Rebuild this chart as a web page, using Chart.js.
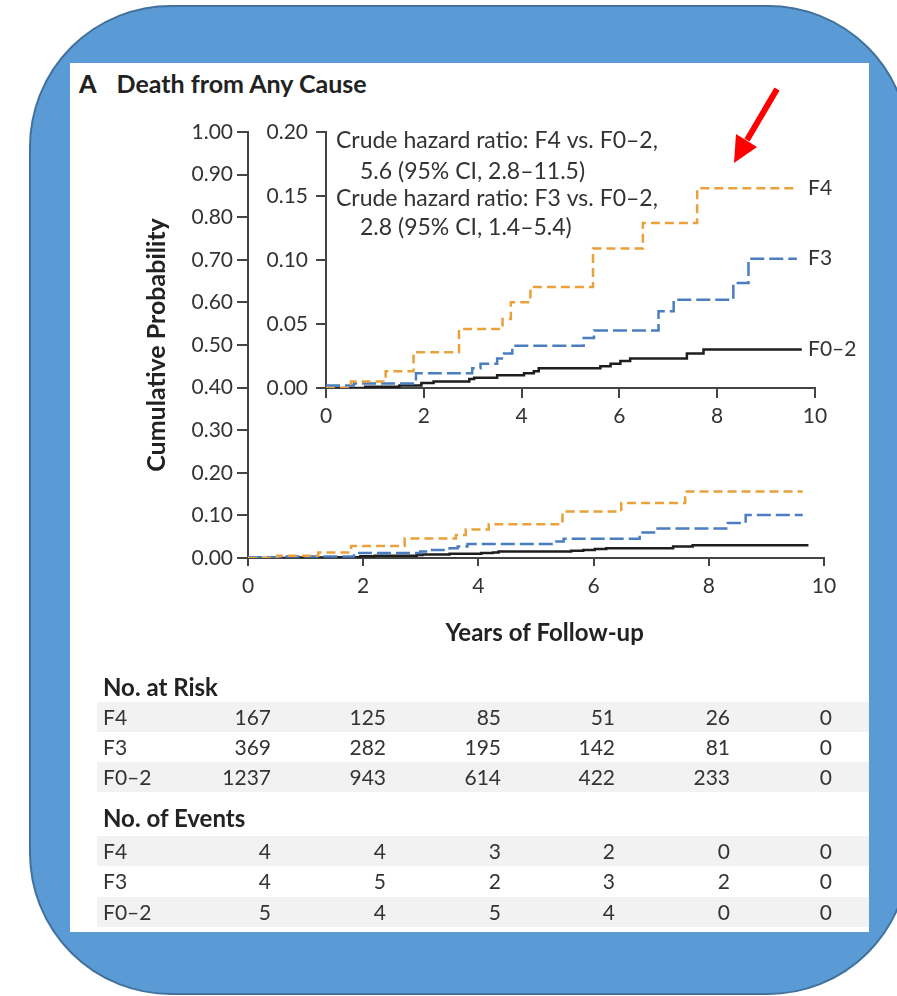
<!DOCTYPE html>
<html>
<head>
<meta charset="utf-8">
<script src="https://cdn.jsdelivr.net/npm/chart.js@4.4.1/dist/chart.umd.min.js"></script>
<style>
  body { margin: 0; width: 897px; height: 996px; background: #fff; position: relative; overflow: hidden; font-family: Lato, sans-serif; color: #2e2e2e; }
  .shape { position: absolute; left: 29px; top: 5px; width: 881px; height: 990px; background: #5b9bd5; border: 2px solid #41719c; border-radius: 142px; box-sizing: border-box; }
  .panel { position: absolute; left: 70px; top: 63px; width: 799px; height: 869px; background: #fff; }
  canvas { position: absolute; left: 0; top: 0; }
  .title { position: absolute; left: 79px; top: 68px; font-weight: bold; font-size: 25px; color: #222; white-space: nowrap; }
  .title b { margin-right: 20px; }
  .hdr { position: absolute; left: 103px; font-weight: bold; font-size: 24px; color: #222; height: 30px; line-height: 30px; white-space: nowrap; }
  .row { position: absolute; left: 97px; width: 772px; height: 30px; line-height: 30px; font-size: 21px; color: #333; }
  .row.shade { background: #f2f2f2; }
  .row span { position: absolute; top: 0; }
  .row .num { width: 80px; text-align: right; }
</style>
</head>
<body>
<div class="shape"></div>
<div class="panel"></div>
<div class="title"><b>A</b>Death from Any Cause</div>
<canvas id="mainChart" width="897" height="660"></canvas>
<canvas id="insetChart" width="897" height="440"></canvas>
<svg width="897" height="996" style="position:absolute;left:0;top:0">
  <line x1="777" y1="89" x2="747" y2="140" stroke="#ff0000" stroke-width="6"/>
  <polygon points="734,163 736,134 757,147" fill="#ff0000"/>
</svg>
<div id="table"></div>

<script>
// Kaplan-Meier style curves (years, cumulative probability)
const f4Times = [0, 0.51, 1.22, 1.79, 2.72, 3.61, 3.78, 4.18, 5.46, 6.48, 7.59, 9.63];
const f4Values = [0, 0.005, 0.013, 0.028, 0.046, 0.054, 0.067, 0.079, 0.109, 0.129, 0.156, 0.156];

const f3Times = [0, 0.57, 1.84, 2.99, 3.16, 3.5, 3.64, 3.81, 5.27, 5.48, 6.8, 7.11, 8.33, 8.64, 9.63];
const f3Values = [0.002, 0.0035, 0.0115, 0.0155, 0.019, 0.023, 0.027, 0.033, 0.039, 0.045, 0.06, 0.069, 0.082, 0.101, 0.101];

const f02Times = [0, 0.8, 1.5, 1.95, 2.2, 2.93, 3.03, 3.5, 4.05, 4.25, 4.35, 5.61, 5.82, 6.02, 6.22, 7.38, 7.72, 9.73];
const f02Values = [0, 0.001, 0.002, 0.004, 0.005, 0.007, 0.008, 0.01, 0.0115, 0.013, 0.0155, 0.017, 0.019, 0.021, 0.023, 0.027, 0.03, 0.03];

const seriesNames = ['F4', 'F3', 'F0\u20132'];

// axes
const yearTicks = [0, 2, 4, 6, 8, 10];
const mainYMax = 1.0;
const insetYMax = 0.2;
const xAxisTitle = 'Years of Follow-up';
const yAxisTitle = 'Cumulative Probability';

const hazardNotes = [
  'Crude hazard ratio: F4 vs. F0\u20132,',
  '5.6 (95% CI, 2.8\u201311.5)',
  'Crude hazard ratio: F3 vs. F0\u20132,',
  '2.8 (95% CI, 1.4\u20135.4)'
];

// risk table
const riskF4 = [167, 125, 85, 51, 26, 0];
const riskF3 = [369, 282, 195, 142, 81, 0];
const riskF02 = [1237, 943, 614, 422, 233, 0];
const eventsF4 = [4, 4, 3, 2, 0, 0];
const eventsF3 = [4, 5, 2, 3, 2, 0];
const eventsF02 = [5, 4, 5, 4, 0, 0];

const fontFamily = 'Lato';
const textColor = '#333';
const axisColor = '#444';

function toPoints(times, values) {
  return times.map((t, i) => ({ x: t, y: values[i] }));
}

function makeDatasets(width) {
  return [
    { label: seriesNames[0], data: toPoints(f4Times, f4Values), borderColor: '#e9a13b', borderDash: [9, 5] },
    { label: seriesNames[1], data: toPoints(f3Times, f3Values), borderColor: '#4a7ebf', borderDash: [14, 5] },
    { label: seriesNames[2], data: toPoints(f02Times, f02Values), borderColor: '#1e1e1e' }
  ].map(d => Object.assign(d, { stepped: true, borderWidth: width, pointRadius: 0, fill: false }));
}

function axisX(tickPad, tickLen, fit) {
  return {
    type: 'linear', min: 0, max: 10,
    afterBuildTicks: s => { s.ticks = yearTicks.map(v => ({ value: v })); },
    ticks: { font: { family: fontFamily, size: 21 }, color: textColor, padding: tickPad },
    grid: { drawOnChartArea: false, tickLength: tickLen, color: axisColor, lineWidth: 2 },
    border: { color: axisColor, width: 2 },
    afterFit: s => { s.height = fit; }
  };
}

function draw() {
  // x axis caption sits a little right of the plot centre in the original
  const xCaption = {
    id: 'xCaption',
    afterDraw(chart) {
      const { ctx, scales: { x } } = chart;
      ctx.save();
      ctx.font = 'bold 24px ' + fontFamily;
      ctx.fillStyle = '#222';
      ctx.textAlign = 'center';
      ctx.textBaseline = 'middle';
      ctx.fillText(xAxisTitle, x.getPixelForValue(5.15), 633);
      ctx.restore();
    }
  };

  // main chart
  new Chart(document.getElementById('mainChart'), {
    type: 'line',
    data: { datasets: makeDatasets(2.5) },
    options: {
      responsive: false, animation: false, devicePixelRatio: 1,
      layout: { padding: { left: 140, right: 73, top: 132, bottom: 0 } },
      plugins: { legend: { display: false }, tooltip: { enabled: false } },
      scales: {
        x: axisX(8, 8, 102),
        y: {
          min: 0, max: mainYMax,
          ticks: { stepSize: 0.1, callback: v => v.toFixed(2), font: { family: fontFamily, size: 21 }, color: textColor, padding: 4 },
          grid: { drawOnChartArea: false, tickLength: 11, color: axisColor, lineWidth: 2 },
          border: { color: axisColor, width: 2 },
          title: { display: true, text: yAxisTitle, color: '#222', font: { family: fontFamily, size: 25, weight: 'bold' }, padding: { top: 2 } },
          afterFit: s => { s.width = 108; }
        }
      }
    },
    plugins: [xCaption]
  });

  // labels and notes inside the inset
  const insetText = {
    id: 'insetText',
    afterDatasetsDraw(chart) {
      const { ctx, chartArea, scales: { y } } = chart;
      const lastValues = [f4Values, f3Values, f02Values].map(v => v[v.length - 1]);
      ctx.save();
      ctx.fillStyle = textColor;
      ctx.textBaseline = 'middle';
      ctx.font = '21px ' + fontFamily;
      lastValues.forEach((v, i) => ctx.fillText(seriesNames[i], chartArea.right - 7, y.getPixelForValue(v)));
      ctx.font = '23px ' + fontFamily;
      const noteTop = [9, 40, 67, 96];
      hazardNotes.forEach((line, i) => {
        ctx.fillText(line, chartArea.left + (i % 2 ? 34 : 10), chartArea.top + noteTop[i]);
      });
      ctx.restore();
    }
  };

  new Chart(document.getElementById('insetChart'), {
    type: 'line',
    data: { datasets: makeDatasets(2.5) },
    options: {
      responsive: false, animation: false, devicePixelRatio: 1,
      layout: { padding: { left: 230, right: 82, top: 132, bottom: 0 } },
      plugins: { legend: { display: false }, tooltip: { enabled: false } },
      scales: {
        x: axisX(6, 10, 52),
        y: {
          min: 0, max: insetYMax,
          ticks: { stepSize: 0.05, callback: v => v.toFixed(2), font: { family: fontFamily, size: 21 }, color: textColor, padding: 8 },
          grid: { drawOnChartArea: false, tickLength: 10, color: axisColor, lineWidth: 2 },
          border: { color: axisColor, width: 2 },
          afterFit: s => { s.width = 96; }
        }
      }
    },
    plugins: [insetText]
  });
}

// risk table
function buildTable() {
  const table = document.getElementById('table');
  const colRight = [271, 386, 501, 615, 730, 832];
  function header(text, cy) {
    const h = document.createElement('div');
    h.className = 'hdr';
    h.style.top = (cy - 15) + 'px';
    h.textContent = text;
    table.appendChild(h);
  }
  function row(name, values, cy, shade) {
    const r = document.createElement('div');
    r.className = 'row' + (shade ? ' shade' : '');
    r.style.top = (cy - 15) + 'px';
    const label = document.createElement('span');
    label.style.left = '6px';
    label.textContent = name;
    r.appendChild(label);
    values.forEach((v, i) => {
      const n = document.createElement('span');
      n.className = 'num';
      n.style.left = (colRight[i] - 97 - 80) + 'px';
      n.textContent = v;
      r.appendChild(n);
    });
    table.appendChild(r);
  }
  header('No. at Risk', 687);
  row(seriesNames[0], riskF4, 717, true);
  row(seriesNames[1], riskF3, 747, false);
  row(seriesNames[2], riskF02, 777, true);
  header('No. of Events', 818);
  row(seriesNames[0], eventsF4, 851, true);
  row(seriesNames[1], eventsF3, 881, false);
  row(seriesNames[2], eventsF02, 912, true);
}

buildTable();
Promise.all([
  document.fonts.load('21px Lato'),
  document.fonts.load('bold 22px Lato')
]).then(draw, draw);
</script>
</body>
</html>
